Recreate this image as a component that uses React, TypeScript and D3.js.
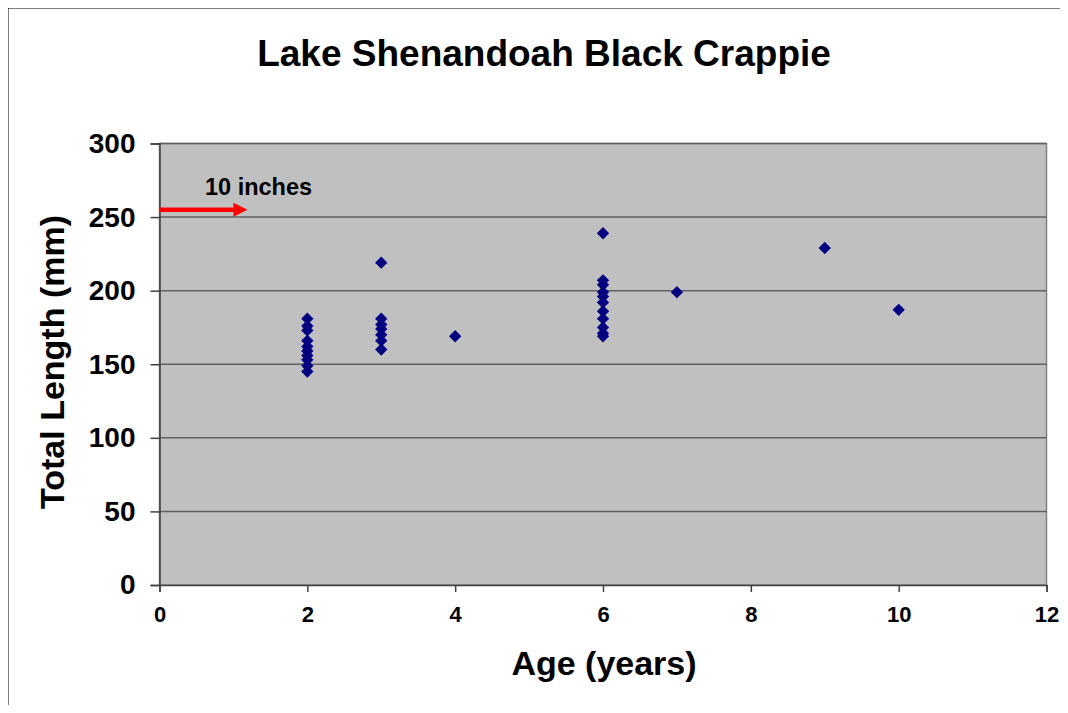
import React, { useEffect, useRef } from 'react'
import * as d3 from 'd3'

const ages = [
    2, 2, 2, 2, 2, 2, 2, 2, 2, 2,
    3, 3, 3, 3, 3, 3, 3,
    4,
    6, 6, 6, 6, 6, 6, 6, 6, 6, 6, 6,
    7, 9, 10,
]
const lengths = [
    181, 176, 173, 166, 162, 159, 156, 153, 149, 145,
    219, 181, 177, 174, 170, 166, 160,
    169,
    239, 207, 204, 199, 196, 192, 186, 181, 175, 171, 169,
    199, 229, 187,
]
const xTicks = [0, 2, 4, 6, 8, 10, 12]
const yTicks = [0, 50, 100, 150, 200, 250, 300]
const markLength = 255
const markLabel = '10 inches'

function App() {
    const svgRef = useRef(null)

    useEffect(() => {
        const width = 1068
        const height = 713
        const left = 159.5, right = 1046.5, top = 143.5, bottom = 585
        const font = 'Arial, "Liberation Sans", sans-serif'

        const svg = d3.select(svgRef.current)
            .attr('width', width)
            .attr('height', height)
            .style('display', 'block')
            .style('font-family', font)
        svg.selectAll('*').remove()

        svg.append('rect')
            .attr('width', width).attr('height', height)
            .attr('fill', '#fff')

        // outer frame: only top and left edges are inside the picture
        svg.append('path')
            .attr('d', `M7.5,${height}V7.5H${width}`)
            .attr('fill', 'none')
            .attr('stroke', '#000').attr('stroke-width', 2)

        const x = d3.scaleLinear().domain([0, 12]).range([left, right])
        const y = d3.scaleLinear().domain([0, 300]).range([bottom, top])

        svg.append('rect')
            .attr('x', left).attr('y', top)
            .attr('width', right - left).attr('height', bottom - top)
            .attr('fill', '#c0c0c0')
            .attr('stroke', '#808080').attr('stroke-width', 1.5)

        // gridlines
        svg.append('g')
            .selectAll('line')
            .data(yTicks.filter(t => t > 0))
            .join('line')
            .attr('x1', left).attr('x2', right)
            .attr('y1', d => y(d)).attr('y2', d => y(d))
            .attr('stroke', '#606060').attr('stroke-width', 1.5)

        const yAxis = d3.axisLeft(y).tickValues(yTicks).tickSize(9).tickPadding(15)
        const gy = svg.append('g')
            .attr('transform', `translate(${left},0)`)
            .call(yAxis)
        gy.selectAll('path, line').attr('stroke', '#404040').attr('stroke-width', 1.5)
        gy.selectAll('text')
            .attr('font-size', 28).attr('font-weight', 'bold')
            .attr('font-family', font).attr('fill', '#000')

        const xAxis = d3.axisBottom(x).tickValues(xTicks).tickSize(7).tickPadding(14)
        const gx = svg.append('g')
            .attr('transform', `translate(0,${bottom})`)
            .call(xAxis)
        gx.selectAll('path, line').attr('stroke', '#404040').attr('stroke-width', 1.5)
        gx.selectAll('text')
            .attr('font-size', 22).attr('font-weight', 'bold')
            .attr('font-family', font).attr('fill', '#000')

        // data points
        const diamond = d3.symbol().type(d3.symbolSquare).size(76)
        svg.append('g')
            .selectAll('path')
            .data(ages.map((a, i) => [a, lengths[i]]))
            .join('path')
            .attr('d', diamond)
            .attr('transform', d => `translate(${x(d[0])},${y(d[1])}) rotate(45)`)
            .attr('fill', '#000080')

        // 10 inch arrow
        const ay = y(markLength)
        svg.append('line')
            .attr('x1', x(0)).attr('x2', x(1.02))
            .attr('y1', ay).attr('y2', ay)
            .attr('stroke', '#ff0000').attr('stroke-width', 4.5)
        svg.append('path')
            .attr('d', d3.line()([[x(1.0), ay - 7], [x(1.19), ay], [x(1.0), ay + 7]]))
            .attr('fill', '#ff0000')
        svg.append('text')
            .attr('x', 205).attr('y', 189)
            .attr('font-size', 23.5).attr('font-weight', 'bold')
            .attr('dominant-baseline', 'middle')
            .text(markLabel)

        svg.append('text')
            .attr('x', 544).attr('y', 56)
            .attr('text-anchor', 'middle').attr('dominant-baseline', 'middle')
            .attr('font-size', 37).attr('font-weight', 'bold')
            .text('Lake Shenandoah Black Crappie')

        svg.append('text')
            .attr('x', 604).attr('y', 666)
            .attr('text-anchor', 'middle').attr('dominant-baseline', 'middle')
            .attr('font-size', 34).attr('font-weight', 'bold')
            .text('Age (years)')

        svg.append('text')
            .attr('transform', `translate(55,362) rotate(-90)`)
            .attr('text-anchor', 'middle').attr('dominant-baseline', 'middle')
            .attr('font-size', 34).attr('font-weight', 'bold')
            .text('Total Length (mm)')
    }, [])

    return (
        <div style={{ margin: -8 }}>
            <svg ref={svgRef}></svg>
        </div>
    )
}

export default App
